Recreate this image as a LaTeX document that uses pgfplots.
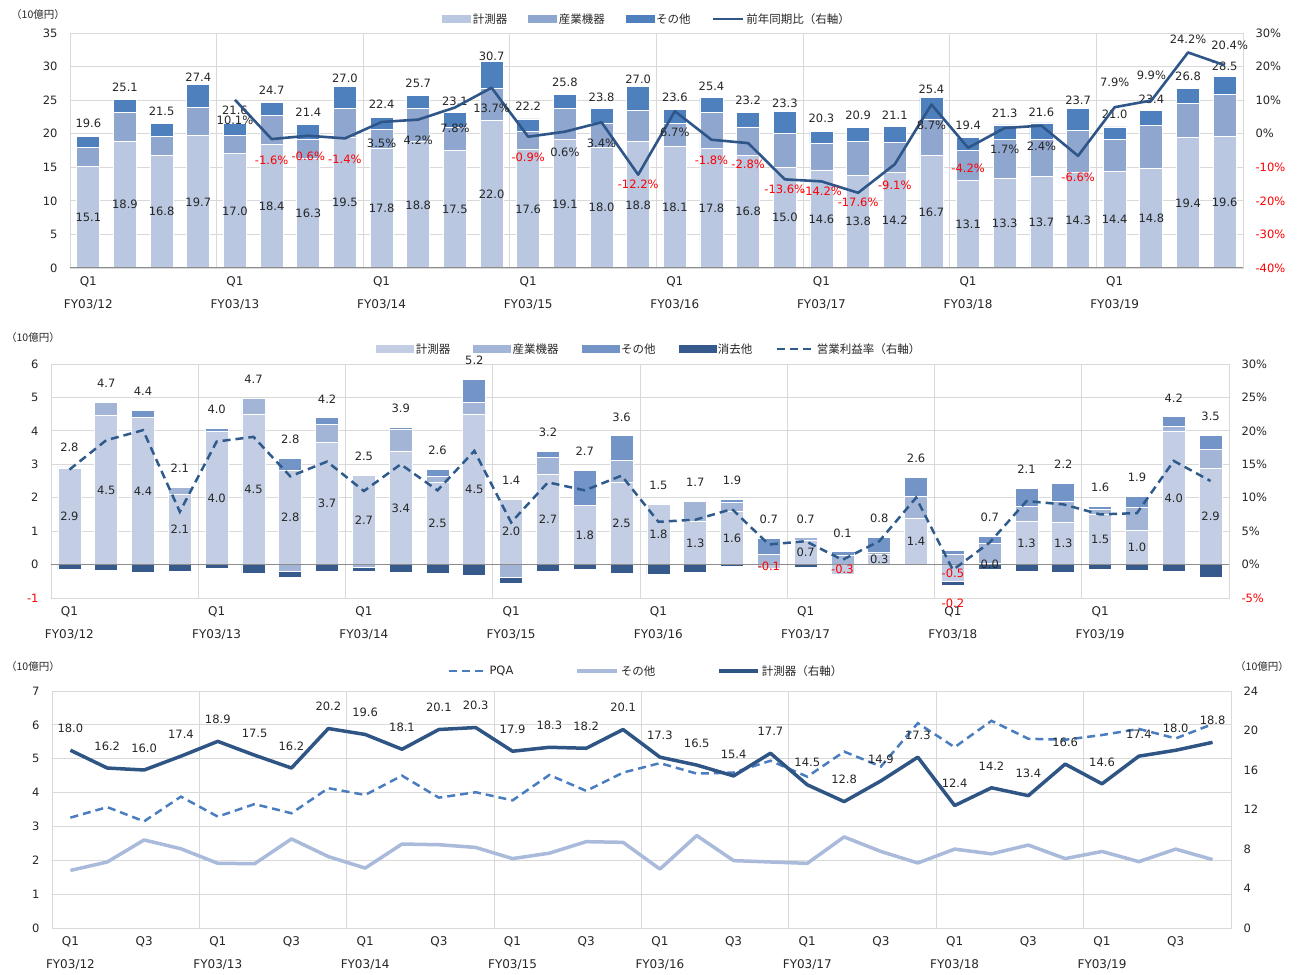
\documentclass[border=0pt]{standalone}
\usepackage{pgfplots}
\pgfplotsset{compat=1.18}
\usepackage{pgfplotstable}
\usepackage{fontspec}
\setmainfont{DejaVu Sans}
\newfontfamily\jp{Noto Sans CJK JP}

\definecolor{txt}{HTML}{262626}
\definecolor{gridc}{HTML}{D9D9D9}
\definecolor{axisc}{HTML}{8C8C8C}
\definecolor{redl}{HTML}{FF0000}
\definecolor{tA}{HTML}{B9C7E1}
\definecolor{tB}{HTML}{8FA6CF}
\definecolor{tC}{HTML}{4F80BE}
\definecolor{tL}{HTML}{2F5689}
\definecolor{mA}{HTML}{C3CEE4}
\definecolor{mB}{HTML}{A3B5D7}
\definecolor{mC}{HTML}{7294C7}
\definecolor{mD}{HTML}{365A8C}
\definecolor{mL}{HTML}{2F5A8C}
\definecolor{bP}{HTML}{4A7DC0}
\definecolor{bO}{HTML}{A9BADB}
\definecolor{bM}{HTML}{2F5584}

\pgfkeys{/pgf/number format/assume math mode=true}

\pgfplotstableread{
x ms ia ot tot
0 15.1 2.8 1.7 19.6
1 18.9 4.3 1.9 25.1
2 16.8 2.8 1.9 21.5
3 19.7 4.2 3.5 27.4
4 17.0 2.8 1.8 21.6
5 18.4 4.3 2.0 24.7
6 16.3 2.9 2.2 21.4
7 19.5 4.2 3.3 27.0
8 17.8 2.8 1.8 22.4
9 18.8 4.9 2.0 25.7
10 17.5 3.4 2.2 23.1
11 22.0 4.7 4.0 30.7
12 17.6 2.7 1.9 22.2
13 19.1 4.6 2.1 25.8
14 18.0 3.5 2.3 23.8
15 18.8 4.7 3.5 27.0
16 18.1 3.4 2.1 23.6
17 17.8 5.4 2.2 25.4
18 16.8 4.2 2.2 23.2
19 15.0 5.0 3.3 23.3
20 14.6 3.9 1.8 20.3
21 13.8 5.0 2.1 20.9
22 14.2 4.5 2.4 21.1
23 16.7 5.5 3.2 25.4
24 13.1 4.4 1.9 19.4
25 13.3 5.9 2.1 21.3
26 13.7 5.4 2.5 21.6
27 14.3 6.2 3.2 23.7
28 14.4 4.8 1.8 21.0
29 14.8 6.4 2.2 23.4
30 19.4 5.1 2.3 26.8
31 19.6 6.2 2.7 28.5
}\topdata

\pgfplotstableread{
x ms ia ot el op tot
0 2.88 0.04 0.02 -0.14 14.2 2.8
1 4.46 0.39 0.00 -0.16 18.6 4.7
2 4.40 0.00 0.20 -0.22 20.1 4.4
3 2.10 0.20 0.00 -0.21 7.9 2.1
4 3.98 0.00 0.10 -0.12 18.4 4.0
5 4.48 0.49 0.00 -0.26 19.1 4.7
6 2.81 -0.21 0.37 -0.17 13.2 2.8
7 3.66 0.54 0.19 -0.20 15.4 4.2
8 2.66 -0.08 0.00 -0.12 11.0 2.5
9 3.38 0.65 0.07 -0.22 15.0 3.9
10 2.46 0.17 0.22 -0.26 11.1 2.6
11 4.48 0.38 0.68 -0.33 17.0 5.2
12 1.96 -0.38 0.00 -0.17 6.3 1.4
13 2.70 0.50 0.18 -0.19 12.3 3.2
14 1.78 0.00 1.03 -0.15 11.1 2.7
15 2.46 0.66 0.73 -0.25 13.3 3.6
16 1.79 0.00 0.00 -0.29 6.4 1.5
17 1.30 0.60 0.00 -0.22 6.7 1.7
18 1.60 0.27 0.09 -0.05 8.3 1.9
19 -0.10 0.30 0.48 0.00 3.0 0.7
20 0.72 0.08 0.00 -0.08 3.5 0.7
21 -0.28 0.28 0.10 -0.02 0.7 0.1
22 0.30 0.06 0.45 -0.03 3.5 0.8
23 1.38 0.65 0.58 -0.03 10.0 2.6
24 -0.50 0.30 0.13 -0.12 -0.8 -0.2
25 0.03 0.60 0.22 -0.13 3.3 0.7
26 1.30 0.43 0.55 -0.20 9.5 2.1
27 1.27 0.62 0.55 -0.23 9.0 2.2
28 1.50 0.16 0.09 -0.15 7.5 1.6
29 1.02 0.70 0.32 -0.17 7.7 1.9
30 3.97 0.17 0.28 -0.20 15.5 4.2
31 2.88 0.56 0.43 -0.37 12.5 3.5
}\middata

\pgfplotstableread{
x pqa oth msr
0 3.26 1.70 18.0
1 3.57 1.95 16.2
2 3.15 2.60 16.0
3 3.88 2.34 17.4
4 3.29 1.91 18.9
5 3.66 1.90 17.5
6 3.39 2.63 16.2
7 4.13 2.11 20.2
8 3.93 1.77 19.6
9 4.50 2.48 18.1
10 3.85 2.46 20.1
11 4.01 2.38 20.3
12 3.77 2.05 17.9
13 4.52 2.21 18.3
14 4.05 2.55 18.2
15 4.59 2.53 20.1
16 4.87 1.74 17.3
17 4.56 2.73 16.5
18 4.59 1.99 15.4
19 4.94 1.95 17.7
20 4.47 1.91 14.5
21 5.21 2.69 12.8
22 4.77 2.26 14.9
23 6.05 1.92 17.3
24 5.34 2.33 12.4
25 6.12 2.19 14.2
26 5.59 2.45 13.4
27 5.56 2.05 16.6
28 5.70 2.26 14.6
29 5.88 1.96 17.4
30 5.60 2.33 18.0
31 6.02 2.02 18.8
}\botdata

\pgfplotsset{
  frame/.style={scale only axis, xmin=-0.5, xmax=31.5,
    axis line style={draw=gridc, line width=0.8pt},
    major tick length=0pt, minor tick length=0pt,
    tick label style={font=\fontsize{11.5}{14}\selectfont, text=txt},
    yticklabel style={xshift=-9pt},
    ymajorgrids=true, xmajorgrids=false,
    major grid style={draw=gridc, line width=0.8pt},
    extra x ticks={3.5,7.5,...,27.5}, extra x tick labels={},
    extra x tick style={grid=major},
    xticklabel style={align=center, font=\fontsize{12}{14}\selectfont, yshift=-5pt},
  },
  over/.style={scale only axis, xmin=-0.5, xmax=31.5,
    axis x line=none, axis y line*=right,
    axis line style={draw=none}, major tick length=0pt, minor tick length=0pt,
    tick label style={font=\fontsize{11.5}{14}\selectfont, text=txt},
    yticklabel style={xshift=9pt},
  },
  hid/.style={scale only axis, xmin=-0.5, xmax=31.5, hide axis},
  lab/.style={draw=none, mark=none,
    every node near coord/.append style={anchor=center, inner sep=0pt,
      font=\fontsize{11.5}{14}\selectfont, text=txt}},
  numlab/.style={nodes near coords={\pgfmathprintnumber[fixed,fixed zerofill,precision=1]{\pgfplotspointmeta}}},
  leg/.style={legend style={draw=none, fill=none, legend columns=-1,
    font=\fontsize{11.5}{13}\selectfont, text=txt, anchor=center,
    legend cell align=left}},
}

\begin{document}
\begin{tikzpicture}
\path[use as bounding box] (0pt,0pt) rectangle (1300pt,974pt);

% ================= TOP =================
\begin{axis}[frame, at={(70pt,706pt)}, anchor=south west, width=1173pt, height=235pt,
  ymin=0, ymax=35, ytick={0,5,...,35},
  xtick={0,4,...,28},
  xticklabels={{Q1\\[9pt]FY03/12},{Q1\\[9pt]FY03/13},{Q1\\[9pt]FY03/14},{Q1\\[9pt]FY03/15},{Q1\\[9pt]FY03/16},{Q1\\[9pt]FY03/17},{Q1\\[9pt]FY03/18},{Q1\\[9pt]FY03/19}},
  ybar stacked, bar width=23pt]
\addplot[fill=tA, draw=white, line width=0.8pt] table[x=x,y=ms]{\topdata};
\addplot[fill=tB, draw=white, line width=0.8pt] table[x=x,y=ia]{\topdata};
\addplot[fill=tC, draw=white, line width=0.8pt, numlab, point meta=\thisrow{tot},
  every node near coord/.append style={anchor=center, inner sep=0pt, yshift=19pt,
    font=\fontsize{11.5}{14}\selectfont, text=txt}] table[x=x,y=ot]{\topdata};
\end{axis}

\begin{axis}[hid, at={(70pt,706pt)}, anchor=south west, width=1173pt, height=235pt,
  ymin=0, ymax=35]
\addplot[lab, numlab, point meta=\thisrow{ms}] table[x=x, y expr=\thisrow{ms}/2]{\topdata};
\end{axis}

\begin{axis}[over, leg, at={(70pt,706pt)}, anchor=south west, width=1173pt, height=235pt,
  ymin=-40, ymax=30, ytick={-40,-30,...,30},
  yticklabels={{\color{redl}-40\%},{\color{redl}-30\%},{\color{redl}-20\%},{\color{redl}-10\%},0\%,10\%,20\%,30\%},
  extra y ticks={-40}, extra y tick labels={},
  extra y tick style={grid=major, major grid style={draw=axisc, line width=1pt}},
  legend style={at={(0.492,1)}, yshift=14pt, /tikz/every even column/.append style={column sep=19pt}}]
\addlegendimage{legend image code/.code={\fill[tA] (0pt,-3.5pt) rectangle (28pt,3.5pt);}}
\addlegendentry{\jp 計測器}
\addlegendimage{legend image code/.code={\fill[tB] (0pt,-3.5pt) rectangle (28pt,3.5pt);}}
\addlegendentry{\jp 産業機器}
\addlegendimage{legend image code/.code={\fill[tC] (0pt,-3.5pt) rectangle (28pt,3.5pt);}}
\addlegendentry{\jp その他}
\addplot[tL, line width=2.6pt, line join=round, mark=none,
  legend image code/.code={\draw[tL, line width=2.6pt] (0pt,0pt) -- (30pt,0pt);}]
  coordinates {(4,10.1) (5,-1.6) (6,-0.6) (7,-1.4) (8,3.5) (9,4.2) (10,7.8) (11,13.7)
  (12,-0.9) (13,0.6) (14,3.4) (15,-12.2) (16,6.7) (17,-1.8) (18,-2.8) (19,-13.6)
  (20,-14.2) (21,-17.6) (22,-9.1) (23,8.7) (24,-4.2) (25,1.7) (26,2.4) (27,-6.6)
  (28,7.9) (29,9.9) (30,24.2) (31,20.4)};
\addlegendentry{\jp 前年同期比（右軸）}
\addplot[lab, nodes near coords={\pgfplotspointmeta}, point meta=explicit symbolic,
  every node near coord/.append style={yshift=-21pt}]
  coordinates {(4,10.1)[10.1\%] (8,3.5)[3.5\%] (9,4.2)[4.2\%] (10,7.8)[7.8\%] (11,13.7)[13.7\%]
  (13,0.6)[0.6\%] (14,3.4)[3.4\%] (16,6.7)[6.7\%] (23,8.7)[8.7\%] (25,1.7)[1.7\%] (26,2.4)[2.4\%]};
\addplot[lab, nodes near coords={\pgfplotspointmeta}, point meta=explicit symbolic,
  every node near coord/.append style={yshift=-21pt, text=redl}]
  coordinates {(5,-1.6)[-1.6\%] (6,-0.6)[-0.6\%] (7,-1.4)[-1.4\%] (12,-0.9)[-0.9\%]
  (17,-1.8)[-1.8\%] (18,-2.8)[-2.8\%] (22,-9.1)[-9.1\%] (24,-4.2)[-4.2\%] (27,-6.6)[-6.6\%]};
\addplot[lab, nodes near coords={\pgfplotspointmeta}, point meta=explicit symbolic,
  every node near coord/.append style={yshift=-10pt, text=redl}]
  coordinates {(15,-12.2)[-12.2\%] (19,-13.6)[-13.6\%] (20,-14.2)[-14.2\%] (21,-17.6)[-17.6\%]};
\addplot[lab, nodes near coords={\pgfplotspointmeta}, point meta=explicit symbolic,
  every node near coord/.append style={yshift=25pt}]
  coordinates {(28,7.9)[7.9\%] (29,9.9)[9.9\%]};
\addplot[lab, nodes near coords={\pgfplotspointmeta}, point meta=explicit symbolic,
  every node near coord/.append style={yshift=13pt}]
  coordinates {(30,24.2)[24.2\%]};
\addplot[lab, nodes near coords={\pgfplotspointmeta}, point meta=explicit symbolic,
  every node near coord/.append style={yshift=20pt, xshift=5pt}]
  coordinates {(31,20.4)[20.4\%]};
\end{axis}

\node[font=\jp\fontsize{10.5}{12}\selectfont, text=txt] at (38pt,959pt) {（10億円）};

% ================= MIDDLE =================
\begin{axis}[frame, at={(51pt,376pt)}, anchor=south west, width=1178pt, height=234pt,
  ymin=-1, ymax=6, ytick={-1,0,...,6},
  yticklabels={{\color{redl}-1},0,1,2,3,4,5,6},
  xtick={0,4,...,28},
  xticklabels={{Q1\\[9pt]FY03/12},{Q1\\[9pt]FY03/13},{Q1\\[9pt]FY03/14},{Q1\\[9pt]FY03/15},{Q1\\[9pt]FY03/16},{Q1\\[9pt]FY03/17},{Q1\\[9pt]FY03/18},{Q1\\[9pt]FY03/19}},
  ybar stacked, bar width=23pt]
\addplot[fill=mA, draw=white, line width=0.8pt] table[x=x, y expr={max(\thisrow{ms},0)}]{\middata};
\addplot[fill=mB, draw=white, line width=0.8pt] table[x=x, y expr={max(\thisrow{ia},0)}]{\middata};
\addplot[fill=mC, draw=white, line width=0.8pt] table[x=x, y expr={max(\thisrow{ot},0)}]{\middata};
\end{axis}

\begin{axis}[hid, at={(51pt,376pt)}, anchor=south west, width=1178pt, height=234pt,
  ymin=-1, ymax=6, ybar stacked, bar width=23pt]
\addplot[fill=mA, draw=white, line width=0.8pt] table[x=x, y expr={min(\thisrow{ms},0)}]{\middata};
\addplot[fill=mB, draw=white, line width=0.8pt] table[x=x, y expr={min(\thisrow{ia},0)}]{\middata};
\addplot[fill=mD, draw=white, line width=0.8pt] table[x=x, y=el]{\middata};
\end{axis}

\begin{axis}[over, leg, at={(51pt,376pt)}, anchor=south west, width=1178pt, height=234pt,
  ymin=-5, ymax=30, ytick={-5,0,...,30},
  yticklabels={{\color{redl}-5\%},0\%,5\%,10\%,15\%,20\%,25\%,30\%},
  extra y ticks={0}, extra y tick labels={},
  extra y tick style={grid=major, major grid style={draw=axisc, line width=1pt}},
  legend style={at={(0.508,1)}, yshift=15pt, /tikz/every even column/.append style={column sep=21pt}}]
\addlegendimage{legend image code/.code={\fill[mA] (0pt,-3.5pt) rectangle (37pt,3.5pt);}}
\addlegendentry{\jp 計測器}
\addlegendimage{legend image code/.code={\fill[mB] (0pt,-3.5pt) rectangle (37pt,3.5pt);}}
\addlegendentry{\jp 産業機器}
\addlegendimage{legend image code/.code={\fill[mC] (0pt,-3.5pt) rectangle (37pt,3.5pt);}}
\addlegendentry{\jp その他}
\addlegendimage{legend image code/.code={\fill[mD] (0pt,-3.5pt) rectangle (37pt,3.5pt);}}
\addlegendentry{\jp 消去他}
\addplot[mL, line width=2.5pt, dash pattern=on 8pt off 5pt, mark=none,
  legend image code/.code={\draw[mL, line width=2.5pt, dash pattern=on 8pt off 5pt] (0pt,0pt) -- (37pt,0pt);}]
  table[x=x, y=op]{\middata};
\addlegendentry{\jp 営業利益率（右軸）}
\end{axis}

\begin{axis}[hid, at={(51pt,376pt)}, anchor=south west, width=1178pt, height=234pt,
  ymin=-1, ymax=6]
\addplot[lab, numlab, point meta=\thisrow{ms}, restrict expr to domain={\thisrow{ms}}{0:100}]
  table[x=x, y expr=\thisrow{ms}/2]{\middata};
\addplot[lab, numlab, point meta=\thisrow{ms}, restrict expr to domain={\thisrow{ms}}{-100:-0.001},
  every node near coord/.append style={text=redl}]
  table[x=x, y expr=\thisrow{ms}/2]{\middata};
\addplot[lab, numlab, point meta=\thisrow{tot}, restrict expr to domain={\thisrow{tot}}{0:100},
  every node near coord/.append style={yshift=19pt}]
  table[x=x, y expr={max(\thisrow{ms},0)+max(\thisrow{ia},0)+max(\thisrow{ot},0)}]{\middata};
\addplot[lab, numlab, point meta=\thisrow{tot}, restrict expr to domain={\thisrow{tot}}{-100:-0.001},
  every node near coord/.append style={yshift=-18pt, text=redl}]
  table[x=x, y expr={min(\thisrow{ms},0)+min(\thisrow{ia},0)+\thisrow{el}}]{\middata};
\end{axis}

\node[font=\jp\fontsize{10.5}{12}\selectfont, text=txt] at (33pt,636pt) {（10億円）};

% ================= BOTTOM =================
\begin{axis}[frame, at={(52pt,46pt)}, anchor=south west, width=1179pt, height=237pt,
  ymin=0, ymax=7, ytick={0,1,...,7},
  xtick={0,2,...,30},
  xticklabels={{Q1\\[9pt]FY03/12},Q3,{Q1\\[9pt]FY03/13},Q3,{Q1\\[9pt]FY03/14},Q3,{Q1\\[9pt]FY03/15},Q3,{Q1\\[9pt]FY03/16},Q3,{Q1\\[9pt]FY03/17},Q3,{Q1\\[9pt]FY03/18},Q3,{Q1\\[9pt]FY03/19},Q3}]
\addplot[bP, line width=2.5pt, dash pattern=on 8pt off 5pt, mark=none] table[x=x, y=pqa]{\botdata};
\addplot[bO, line width=3.5pt, line join=round, mark=none] table[x=x, y=oth]{\botdata};
\end{axis}

\begin{axis}[over, leg, at={(52pt,46pt)}, anchor=south west, width=1179pt, height=237pt,
  ymin=0, ymax=24, ytick={0,4,...,24},
  legend style={at={(0.504,1)}, yshift=20pt, /tikz/every even column/.append style={column sep=60pt}}]
\addlegendimage{legend image code/.code={\draw[bP, line width=2.5pt, dash pattern=on 8pt off 5pt] (0pt,0pt) -- (37pt,0pt);}}
\addlegendentry{PQA}
\addlegendimage{legend image code/.code={\draw[bO, line width=3.5pt] (0pt,0pt) -- (40pt,0pt);}}
\addlegendentry{\jp その他}
\addplot[bM, line width=3.5pt, line join=round, mark=none, numlab, point meta=\thisrow{msr},
  every node near coord/.append style={anchor=center, inner sep=0pt, yshift=22pt,
    font=\fontsize{11.5}{14}\selectfont, text=txt},
  legend image code/.code={\draw[bM, line width=3.5pt] (0pt,0pt) -- (39pt,0pt);}]
  table[x=x, y=msr]{\botdata};
\addlegendentry{\jp 計測器（右軸）}
\end{axis}

\node[font=\jp\fontsize{10.5}{12}\selectfont, text=txt] at (33pt,307pt) {（10億円）};
\node[font=\jp\fontsize{10.5}{12}\selectfont, text=txt] at (1262pt,307pt) {（10億円）};

\end{tikzpicture}
\end{document}
